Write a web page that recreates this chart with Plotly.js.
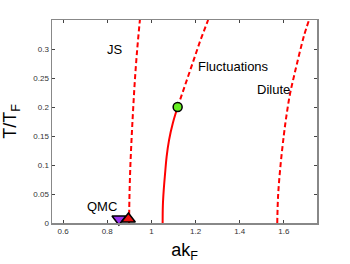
<!DOCTYPE html>
<html>
<head>
<meta charset="utf-8">
<script src="https://cdn.plot.ly/plotly-3.0.1.min.js"></script>
<style>body{margin:0;padding:0;background:#fff}#chart{width:350px;height:264px}</style>
</head>
<body>
<div id="chart"></div>
<script>
// JS line (dashed)
const jsAk = [0.899, 0.901, 0.905, 0.911, 0.918, 0.926, 0.936, 0.948];
const jsT  = [0.0, 0.05, 0.10, 0.15, 0.20, 0.25, 0.30, 0.35];
// Solid critical line
const solidAk = [1.051, 1.052, 1.056, 1.062, 1.069, 1.080, 1.097, 1.119];
const solidT  = [0.0, 0.03, 0.057, 0.085, 0.114, 0.143, 0.172, 0.20];
// Fluctuations (dashed continuation)
const flucAk = [1.119, 1.155, 1.190, 1.222, 1.257];
const flucT  = [0.20, 0.24, 0.28, 0.315, 0.35];
// Dilute line (dashed)
const dilAk = [1.570, 1.574, 1.585, 1.600, 1.612, 1.627, 1.647, 1.669, 1.692, 1.714];
const dilT  = [0.0, 0.048, 0.10, 0.152, 0.186, 0.221, 0.255, 0.29, 0.324, 0.35];
// Markers
const greenPt = {ak: [1.119], t: [0.20]};
const qmcPurple = {ak: [0.853], t: [0.007]};
const qmcRed = {ak: [0.896], t: [0.007]};
// Labels
const labels = [
  {text: "JS", ak: 0.835, t: 0.30, anchor: "center"},
  {text: "Fluctuations", ak: 1.202, t: 0.269, anchor: "left"},
  {text: "Dilute", ak: 1.469, t: 0.231, anchor: "left"},
  {text: "QMC", ak: 0.700, t: 0.029, anchor: "left"}
];
const xTicks = [0.6, 0.8, 1, 1.2, 1.4, 1.6];
const xTickText = ["0.6", "0.8", "1", "1.2", "1.4", "1.6"];
const yTicks = [0, 0.05, 0.1, 0.15, 0.2, 0.25, 0.3];
const yTickText = ["0", "0.05", "0.1", "0.15", "0.2", "0.25", "0.3"];

const red = "#ff0000";
const dash = "5px,3px";
const traces = [
  {x: jsAk, y: jsT, mode: "lines", line: {color: red, width: 2, dash: dash, shape: "spline"}},
  {x: solidAk, y: solidT, mode: "lines", line: {color: red, width: 2, shape: "spline"}},
  {x: flucAk, y: flucT, mode: "lines", line: {color: red, width: 2, dash: dash}},
  {x: dilAk, y: dilT, mode: "lines", line: {color: red, width: 2, dash: dash, shape: "spline"}},
  {x: greenPt.ak, y: greenPt.t, mode: "markers", marker: {symbol: "circle", size: 9, color: "#66ee22", line: {color: "#000", width: 1.5}}},
  {x: qmcPurple.ak, y: qmcPurple.t, mode: "markers", marker: {symbol: "triangle-down", size: 12, color: "#9933ee", line: {color: "#000", width: 1.5}}},
  {x: qmcRed.ak, y: qmcRed.t, mode: "markers", marker: {symbol: "triangle-up", size: 12, color: "#ee1111", line: {color: "#000", width: 1.5}}}
].map(t => Object.assign(t, {showlegend: false, hoverinfo: "skip", cliponaxis: false}));

const font = "Liberation Sans, Arial, sans-serif";
const layout = {
  width: 350, height: 264,
  margin: {l: 52, r: 33, t: 20, b: 41, pad: 0},
  paper_bgcolor: "#fff", plot_bgcolor: "#fff",
  showlegend: false,
  font: {family: font, color: "#000"},
  xaxis: {
    range: [0.55, 1.75], tickvals: xTicks, ticktext: xTickText,
    ticks: "inside", ticklen: 3, tickcolor: "#444", tickwidth: 1,
    showline: true, linecolor: "#888", linewidth: 1.5, mirror: "ticks",
    showgrid: false, zeroline: false,
    tickfont: {size: 8, color: "#333", family: font},
    title: {text: "ak<sub>F</sub>", font: {size: 18, family: font, color: "#000"}, standoff: 8},
    automargin: false
  },
  yaxis: {
    range: [0, 0.35], tickvals: yTicks, ticktext: yTickText,
    ticks: "inside", ticklen: 3, tickcolor: "#444", tickwidth: 1,
    showline: true, linecolor: "#888", linewidth: 1.5, mirror: "ticks",
    showgrid: false, zeroline: true, zerolinecolor: "#000", zerolinewidth: 1.5,
    tickfont: {size: 8, color: "#333", family: font},
    title: {text: "T/T<sub>F</sub>", font: {size: 18, family: font, color: "#000"}, standoff: 14},
    automargin: false
  },
  annotations: labels.map(l => ({
    x: l.ak, y: l.t, xref: "x", yref: "y", text: l.text, showarrow: false,
    xanchor: l.anchor, yanchor: "middle",
    font: {size: 13, family: font, color: "#000"}
  }))
};
Plotly.newPlot("chart", traces, layout, {staticPlot: true, displayModeBar: false});
</script>
</body>
</html>
